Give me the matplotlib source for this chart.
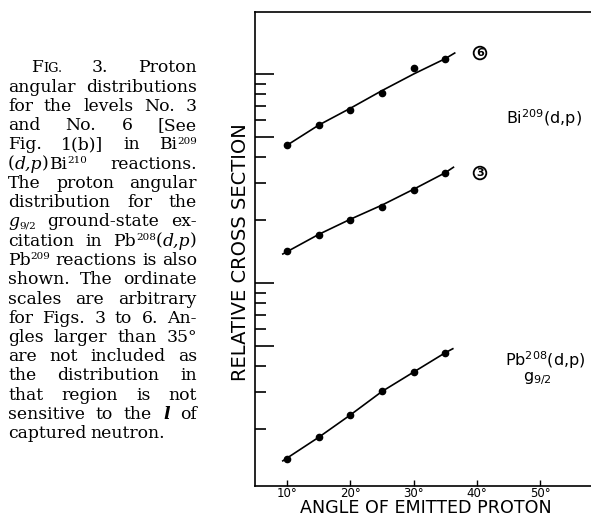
import matplotlib
matplotlib.use('Agg')
import matplotlib.pyplot as plt
from matplotlib.ticker import FixedLocator, NullFormatter

# measured points (angle in degrees, relative cross section on log scale)
angle = [10, 15, 20, 25, 30, 35]
level6 = [4.57, 5.68, 6.73, 8.14, 10.65, 11.84]
level3 = [1.43, 1.70, 2.01, 2.30, 2.80, 3.37]
pb_g92 = [0.144, 0.183, 0.234, 0.303, 0.375, 0.464]

# hand drawn curves
curve6_x = [10, 15, 20, 25, 30, 35, 36.5]
curve6_y = [4.57, 5.70, 6.86, 8.33, 10.0, 11.84, 12.6]
curve3_x = [9.3, 15, 20, 25, 30, 35, 36.3]
curve3_y = [1.377, 1.71, 2.02, 2.36, 2.81, 3.37, 3.58]
curvepb_x = [9.3, 15, 20, 25, 30, 35, 36.2]
curvepb_y = [0.141, 0.183, 0.234, 0.303, 0.375, 0.464, 0.485]

xtick_vals = [10, 20, 30, 40, 50]
xtick_labels = ['10°', '20°', '30°', '40°', '50°']
ymajor = [0.5, 1, 5, 10]
yminor = [0.2, 0.3, 0.4, 0.6, 0.7, 0.8, 0.9, 2, 3, 4, 6, 7, 8, 9]

# caption words; a word may be a list of pieces: (text, kind)
# kind: '' normal, 'sc' small caps, 'sup' superscript, 'sub' subscript, 'it' italic
DP = [('(', ''), ('d,p', 'it'), (')', '')]
caption = [
    [[('F', ''), ('IG.', 'sc')], '3.', 'Proton'],
    ['angular', 'distributions'],
    ['for', 'the', 'levels', 'No.', '3'],
    ['and', 'No.', '6', '[See'],
    ['Fig.', '1(b)]', 'in', [('Bi', ''), ('209', 'sup')]],
    [DP + [('Bi', ''), ('210', 'sup')], 'reactions.'],
    ['The', 'proton', 'angular'],
    ['distribution', 'for', 'the'],
    [[('g', 'it'), ('9/2', 'sub')], 'ground-state', 'ex-'],
    ['citation', 'in', [('Pb', ''), ('208', 'sup')] + DP],
    [[('Pb', ''), ('209', 'sup')], 'reactions', 'is', 'also'],
    ['shown.', 'The', 'ordinate'],
    ['scales', 'are', 'arbitrary'],
    ['for', 'Figs.', '3', 'to', '6.', 'An-'],
    ['gles', 'larger', 'than', '35°'],
    ['are', 'not', 'included', 'as'],
    ['the', 'distribution', 'in'],
    ['that', 'region', 'is', 'not'],
    ['sensitive', 'to', 'the', [('l', 'itb')], 'of'],
    ['captured', 'neutron.'],
]

W, H = 591, 518
fig = plt.figure(figsize=(W / 100, H / 100), dpi=100)
renderer = fig.canvas.get_renderer()

cap_size = 12.4


def px(x, y):
    return x / W, 1 - y / H


def piece_style(kind, scale):
    size = cap_size * scale
    kw = dict(fontsize=size, family='DejaVu Serif', va='baseline')
    rise = 0
    if kind == 'sc':
        kw['fontsize'] = size * 0.75
    elif kind == 'sup':
        kw['fontsize'] = size * 0.6
        rise = size * 0.45
    elif kind == 'sub':
        kw['fontsize'] = size * 0.6
        rise = -size * 0.2
    elif kind == 'it':
        kw['style'] = 'italic'
    elif kind == 'itb':
        kw['style'] = 'italic'
        kw['weight'] = 'bold'
    return kw, rise


def caption_line(words, base, x0, x1, justify=True, scale=1.0):
    placed = []
    texts = []
    total = 0
    for w in words:
        parts = w if isinstance(w, list) else [(w, '')]
        items = []
        ww = 0
        for s, kind in parts:
            kw, rise = piece_style(kind, scale)
            t = fig.text(0, 0, s, **kw)
            texts.append(t)
            items.append((t, ww, rise))
            ww += t.get_window_extent(renderer).width
        placed.append((items, ww))
        total += ww
    n = len(words)
    if justify and n > 1:
        gap = (x1 - x0 - total) / (n - 1)
        if gap < 2.5 and scale > 0.8:
            # too long for the column: shrink this line a bit
            for t in texts:
                t.remove()
            new_scale = scale * (x1 - x0 - 2.5 * (n - 1)) / total
            caption_line(words, base, x0, x1, justify, new_scale)
            return
    else:
        gap = cap_size * 0.3
    x = x0
    for items, ww in placed:
        for t, off, rise in items:
            t.set_position(px(x + off, base - rise))
        x += ww + gap


for i, words in enumerate(caption):
    x0 = 31 if i == 0 else 8
    caption_line(words, 72.5 + 19.25 * i, x0, 197, justify=(i < len(caption) - 1))

# plot
l, b = px(255, 486)
ax = fig.add_axes([l, b, (W - 255) / W + 0.01, (486 - 12) / H])
ax.set_yscale('log')
ax.set_xlim(4.9, 59)
ax.set_ylim(0.1069, 19.8)

for cx, cy, y in [(curve6_x, curve6_y, level6), (curve3_x, curve3_y, level3),
                  (curvepb_x, curvepb_y, pb_g92)]:
    ax.plot(cx, cy, color='black', lw=1.2)
    ax.plot(angle, y, 'o', color='black', ms=4.5)

ax.spines['right'].set_visible(False)
for s in ['left', 'top', 'bottom']:
    ax.spines[s].set_linewidth(1.2)

ax.set_xticks(xtick_vals)
ax.set_xticklabels(xtick_labels, fontsize=8.5)
ax.tick_params(axis='x', direction='in', length=4, width=1, pad=0.5)
ax.yaxis.set_major_locator(FixedLocator(ymajor))
ax.yaxis.set_minor_locator(FixedLocator(yminor))
ax.yaxis.set_major_formatter(NullFormatter())
ax.yaxis.set_minor_formatter(NullFormatter())
ax.tick_params(axis='y', which='major', direction='in', length=14, width=1.2)
ax.tick_params(axis='y', which='minor', direction='in', length=8, width=1.2)

circ = dict(boxstyle='circle,pad=0.12', fc='none', ec='black', lw=1.3)
ax.text(40.5, 12.6, '6', fontsize=8, weight='bold', ha='center', va='center', bbox=circ)
ax.text(40.5, 3.36, '3', fontsize=8, weight='bold', ha='center', va='center', bbox=circ)
ax.text(50.7, 6.16, 'Bi$^{209}$(d,p)', fontsize=11.5, ha='center', va='center',
        math_fontfamily='dejavusans')
ax.text(50.8, 0.428, 'Pb$^{208}$(d,p)', fontsize=11.5, ha='center', va='center',
        math_fontfamily='dejavusans')
ax.text(49.6, 0.351, 'g$_{9/2}$', fontsize=11.5, ha='center', va='center',
        math_fontfamily='dejavusans')

x, y = px(426, 513)
fig.text(x, y, 'ANGLE OF EMITTED PROTON', fontsize=12.6, ha='center', va='baseline')
x, y = px(241, 252)
fig.text(x, y, 'RELATIVE CROSS SECTION', fontsize=14, rotation=90, ha='center', va='center')

fig.savefig('out.png', dpi=100)
